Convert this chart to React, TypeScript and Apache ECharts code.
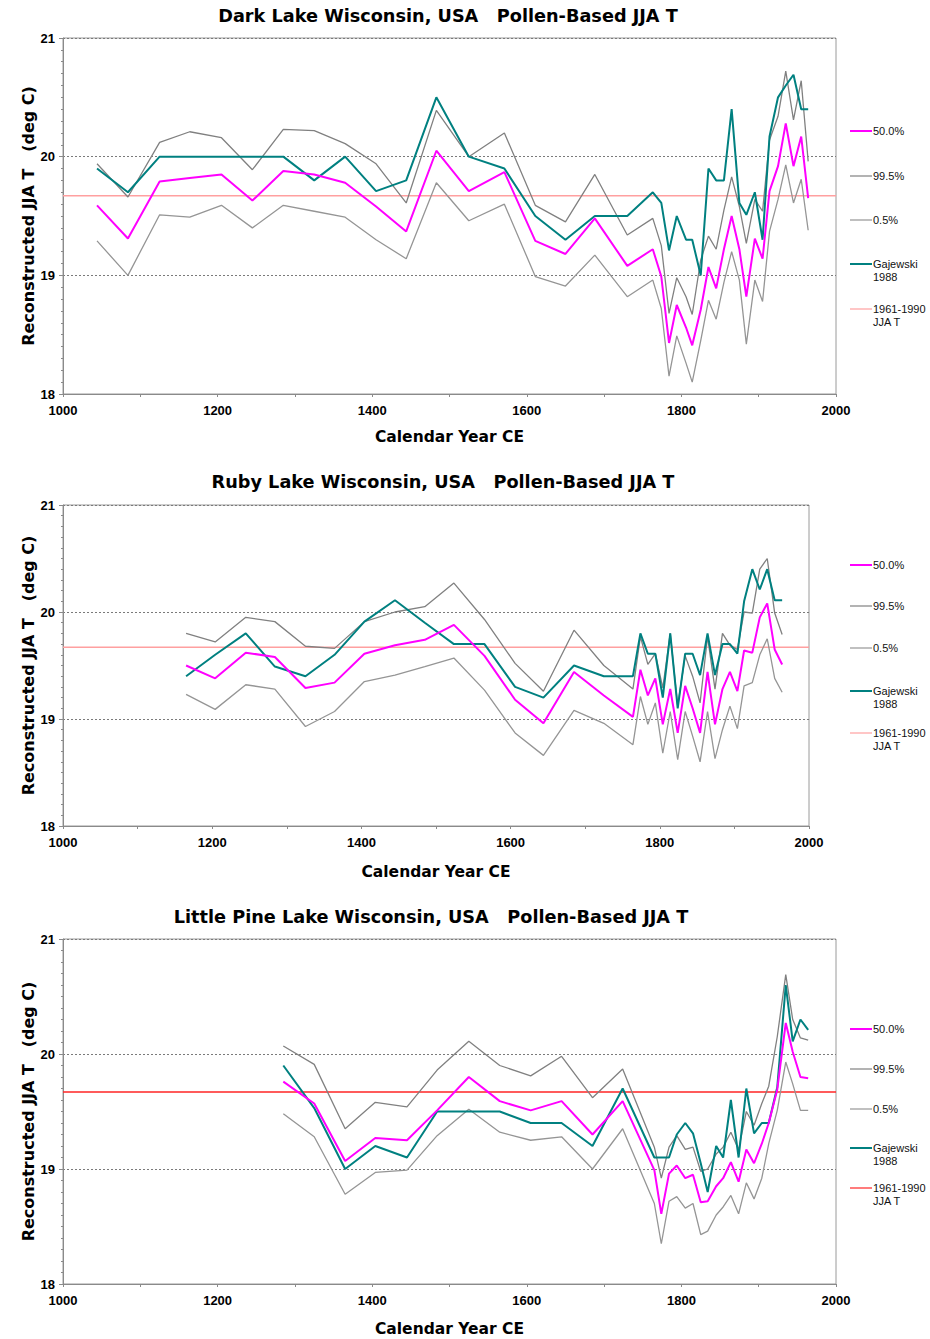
import React, { useEffect, useRef } from "react";
import * as echarts from "echarts";

// ---------------- DATA ----------------
const darkTitle = "Dark Lake Wisconsin, USA   Pollen-Based JJA T";
const rubyTitle = "Ruby Lake Wisconsin, USA   Pollen-Based JJA T";
const pineTitle = "Little Pine Lake Wisconsin, USA   Pollen-Based JJA T";

const xAxisName = "Calendar Year CE";
const yAxisName = "Reconstructed JJA T   (deg C)";
const legendLabels = ["50.0%", "99.5%", "0.5%", "Gajewski\n1988", "1961-1990\nJJA T"];

const refYears = [1000, 2000];
const refValue = 19.67;

const darkYears = [1044, 1084, 1125, 1164, 1205, 1245, 1285, 1325, 1365, 1405, 1444, 1483, 1525, 1571, 1611, 1650, 1688, 1730, 1763, 1774, 1784, 1794, 1806, 1814, 1825, 1835, 1845, 1855, 1865, 1875, 1884, 1895, 1905, 1914, 1925, 1935, 1945, 1955, 1964];
const darkMedian = [19.59, 19.31, 19.79, 19.82, 19.85, 19.63, 19.88, 19.85, 19.78, 19.58, 19.37, 20.05, 19.71, 19.87, 19.29, 19.18, 19.48, 19.08, 19.22, 18.99, 18.43, 18.75, 18.56, 18.41, 18.71, 19.07, 18.89, 19.22, 19.5, 19.22, 18.82, 19.31, 19.14, 19.71, 19.92, 20.28, 19.92, 20.17, 19.65];
const darkUpper = [19.94, 19.66, 20.12, 20.21, 20.16, 19.89, 20.23, 20.22, 20.11, 19.94, 19.61, 20.39, 20.0, 20.2, 19.59, 19.45, 19.85, 19.34, 19.48, 19.25, 18.68, 18.98, 18.82, 18.67, 19.13, 19.33, 19.22, 19.55, 19.83, 19.58, 19.27, 19.64, 19.54, 20.14, 20.34, 20.72, 20.31, 20.64, 19.96];
const darkLower = [19.29, 19.0, 19.51, 19.49, 19.59, 19.4, 19.59, 19.54, 19.49, 19.3, 19.14, 19.78, 19.46, 19.6, 18.99, 18.91, 19.17, 18.82, 18.96, 18.72, 18.15, 18.49, 18.26, 18.1, 18.45, 18.79, 18.63, 18.94, 19.2, 18.96, 18.42, 18.96, 18.78, 19.37, 19.64, 19.93, 19.61, 19.81, 19.38];
const darkGajewski = [19.9, 19.7, 20.0, 20.0, 20.0, 20.0, 20.0, 19.8, 20.0, 19.71, 19.8, 20.5, 20.0, 19.9, 19.5, 19.3, 19.5, 19.5, 19.7, 19.61, 19.21, 19.5, 19.3, 19.3, 19.0, 19.9, 19.8, 19.8, 20.4, 19.61, 19.51, 19.7, 19.3, 20.17, 20.5, 20.6, 20.69, 20.4, 20.4];

const rubyYears = [1165, 1204, 1245, 1284, 1325, 1364, 1404, 1445, 1485, 1524, 1565, 1606, 1644, 1685, 1725, 1764, 1774, 1784, 1794, 1804, 1814, 1824, 1834, 1844, 1854, 1864, 1874, 1884, 1894, 1904, 1913, 1924, 1934, 1944, 1954, 1964];
const rubyMedian = [19.5, 19.38, 19.62, 19.58, 19.29, 19.34, 19.61, 19.69, 19.74, 19.88, 19.59, 19.18, 18.96, 19.44, 19.22, 19.02, 19.46, 19.22, 19.38, 18.95, 19.28, 18.87, 19.31, 19.1, 18.87, 19.44, 18.95, 19.28, 19.44, 19.26, 19.64, 19.62, 19.95, 20.08, 19.65, 19.51];
const rubyUpper = [19.8, 19.72, 19.95, 19.91, 19.68, 19.66, 19.91, 20.0, 20.05, 20.27, 19.93, 19.52, 19.26, 19.83, 19.5, 19.28, 19.77, 19.51, 19.61, 19.29, 19.8, 19.12, 19.59, 19.4, 19.15, 19.77, 19.28, 19.8, 19.69, 19.65, 20.0, 19.99, 20.4, 20.5, 19.99, 19.79];
const rubyLower = [19.23, 19.09, 19.32, 19.28, 18.93, 19.07, 19.35, 19.41, 19.49, 19.57, 19.27, 18.87, 18.66, 19.08, 18.96, 18.76, 19.21, 18.95, 19.15, 18.68, 19.07, 18.62, 19.07, 18.84, 18.6, 19.07, 18.63, 18.9, 19.12, 18.91, 19.31, 19.34, 19.6, 19.75, 19.38, 19.25];
const rubyGajewski = [19.4, 19.6, 19.8, 19.49, 19.4, 19.6, 19.91, 20.11, 19.9, 19.7, 19.7, 19.3, 19.2, 19.5, 19.4, 19.4, 19.8, 19.61, 19.61, 19.2, 19.8, 19.1, 19.61, 19.61, 19.41, 19.8, 19.41, 19.7, 19.7, 19.61, 20.1, 20.4, 20.21, 20.4, 20.11, 20.11];

const pineYears = [1285, 1325, 1365, 1404, 1445, 1484, 1525, 1565, 1605, 1645, 1685, 1724, 1765, 1774, 1784, 1794, 1805, 1815, 1825, 1834, 1845, 1854, 1864, 1874, 1884, 1894, 1904, 1913, 1924, 1935, 1944, 1954, 1964];
const pineMedian = [19.76, 19.57, 19.07, 19.27, 19.25, 19.51, 19.8, 19.59, 19.51, 19.59, 19.3, 19.59, 18.99, 18.61, 18.96, 19.03, 18.92, 18.95, 18.71, 18.72, 18.85, 18.92, 19.06, 18.89, 19.17, 19.05, 19.22, 19.4, 19.69, 20.27, 20.02, 19.8, 19.79];
const pineUpper = [20.07, 19.91, 19.35, 19.58, 19.54, 19.86, 20.11, 19.9, 19.81, 19.98, 19.62, 19.87, 19.19, 18.92, 19.19, 19.29, 19.17, 19.19, 18.98, 19.0, 19.13, 19.19, 19.32, 19.17, 19.5, 19.38, 19.57, 19.72, 20.15, 20.69, 20.3, 20.14, 20.12];
const pineLower = [19.48, 19.28, 18.78, 18.97, 18.99, 19.29, 19.52, 19.32, 19.25, 19.28, 19.0, 19.35, 18.7, 18.35, 18.72, 18.76, 18.66, 18.7, 18.43, 18.46, 18.6, 18.67, 18.77, 18.61, 18.88, 18.74, 18.92, 19.22, 19.51, 19.93, 19.74, 19.51, 19.51];
const pineGajewski = [19.9, 19.53, 19.0, 19.2, 19.1, 19.5, 19.5, 19.5, 19.4, 19.4, 19.2, 19.7, 19.1, 19.1, 19.1, 19.3, 19.4, 19.31, 19.05, 18.8, 19.2, 19.1, 19.6, 19.1, 19.7, 19.31, 19.4, 19.4, 19.71, 20.6, 20.11, 20.3, 20.21];

// ---------------- LAYOUT / STYLE ----------------
const FONT = '"Liberation Sans", Arial, sans-serif';
const WIDE = '"DejaVu Sans", "Liberation Sans", sans-serif';
const C_MED = "#ff00ff";
const C_UP = "#808080";
const C_LO = "#959595";
const C_GAJ = "#008080";

const panels = [
  {
    title: darkTitle, years: darkYears, median: darkMedian, upper: darkUpper, lower: darkLower, gaj: darkGajewski,
    grid: { left: 63, top: 38, width: 773, height: 356 }, refColor: "#ffa0a0",
    titleX: 448, titleY: 16, xNameGap: 35, legendYs: [131, 176, 220, 264, 309],
  },
  {
    title: rubyTitle, years: rubyYears, median: rubyMedian, upper: rubyUpper, lower: rubyLower, gaj: rubyGajewski,
    grid: { left: 63, top: 505, width: 746, height: 321 }, refColor: "#ffa0a0",
    titleX: 443, titleY: 482, xNameGap: 38, legendYs: [565, 606, 648, 691, 733],
  },
  {
    title: pineTitle, years: pineYears, median: pineMedian, upper: pineUpper, lower: pineLower, gaj: pineGajewski,
    grid: { left: 63, top: 939, width: 773, height: 345 }, refColor: "#ff2424",
    titleX: 431, titleY: 917, xNameGap: 37, legendYs: [1029, 1069, 1109, 1148, 1188],
  },
];

function pairs(xs: number[], ys: number[]) {
  return xs.map((x, i) => [x, ys[i]]);
}

export default function App() {
  const ref = useRef<HTMLDivElement>(null);
  useEffect(() => {
    document.body.style.margin = "0";
    if (!ref.current) return;
    const chart = echarts.init(ref.current, undefined, { renderer: "svg" });

    const grids: any[] = [];
    const xAxes: any[] = [];
    const yAxes: any[] = [];
    const series: any[] = [];
    const graphic: any[] = [];

    panels.forEach((p, i) => {
      grids.push({ ...p.grid, show: true, borderColor: "#9a9a9a", borderWidth: 1, backgroundColor: "#fff" });
      xAxes.push({
        gridIndex: i, type: "value", min: 1000, max: 2000, interval: 100,
        name: xAxisName, nameLocation: "middle", nameGap: p.xNameGap,
        nameTextStyle: { fontFamily: WIDE, fontWeight: "bold", fontSize: 15.5, color: "#000" },
        axisLine: { show: true, lineStyle: { color: "#8a8a8a", width: 1 } },
        axisTick: { show: true, length: 3, lineStyle: { color: "#8a8a8a" } },
        axisLabel: {
          margin: 10, fontFamily: FONT, fontWeight: "bold", fontSize: 13, color: "#000",
          formatter: (v: number) => (v % 200 === 0 ? String(v) : ""),
        },
        splitLine: { show: false },
      });
      yAxes.push({
        gridIndex: i, type: "value", min: 18, max: 21, interval: 1,
        name: yAxisName, nameLocation: "middle", nameGap: 27, nameMoveOverlap: false,
        nameTextStyle: { fontFamily: WIDE, fontWeight: "bold", fontSize: 16, color: "#000" },
        axisLine: { show: true, lineStyle: { color: "#8a8a8a", width: 1 } },
        axisTick: { show: true, length: 4, lineStyle: { color: "#8a8a8a" } },
        minorTick: { show: true, splitNumber: 10, length: 2, lineStyle: { color: "#8a8a8a" } },
        axisLabel: { margin: 8, fontFamily: FONT, fontWeight: "bold", fontSize: 13, color: "#000" },
        splitLine: { show: true, lineStyle: { color: "#7a7a7a", width: 1, type: [2, 2] } },
      });
      const base = { type: "line", xAxisIndex: i, yAxisIndex: i, symbol: "none", silent: true };
      series.push({ ...base, name: "1961-1990 JJA T", data: pairs(refYears, [refValue, refValue]), lineStyle: { color: p.refColor, width: 1.5 } });
      series.push({ ...base, name: "99.5%", data: pairs(p.years, p.upper), lineStyle: { color: C_UP, width: 1.3 } });
      series.push({ ...base, name: "0.5%", data: pairs(p.years, p.lower), lineStyle: { color: C_LO, width: 1.3 } });
      series.push({ ...base, name: "Gajewski 1988", data: pairs(p.years, p.gaj), lineStyle: { color: C_GAJ, width: 2 } });
      series.push({ ...base, name: "50.0%", data: pairs(p.years, p.median), lineStyle: { color: C_MED, width: 2 } });

      graphic.push({
        type: "text", x: p.titleX, y: p.titleY,
        style: { text: p.title, font: `bold 17.7px ${WIDE}`, fill: "#000", textAlign: "center", textVerticalAlign: "middle" },
      });
      const colors = [C_MED, C_UP, C_LO, C_GAJ, p.refColor];
      const widths = [2, 1.2, 1.2, 2, 1.2];
      legendLabels.forEach((lab, k) => {
        const ly = p.legendYs[k];
        graphic.push({
          type: "line", shape: { x1: 850, y1: ly, x2: 872, y2: ly },
          style: { stroke: colors[k], lineWidth: widths[k] },
        });
        graphic.push({
          type: "text", x: 873, y: ly - 7,
          style: { text: lab, font: `11px ${FONT}`, fill: "#111", textAlign: "left", textVerticalAlign: "top", lineHeight: 13 },
        });
      });
    });

    chart.setOption({
      animation: false,
      backgroundColor: "#fff",
      grid: grids,
      xAxis: xAxes,
      yAxis: yAxes,
      series,
      graphic,
    });
    return () => chart.dispose();
  }, []);
  return <div ref={ref} style={{ width: 930, height: 1339 }} />;
}
